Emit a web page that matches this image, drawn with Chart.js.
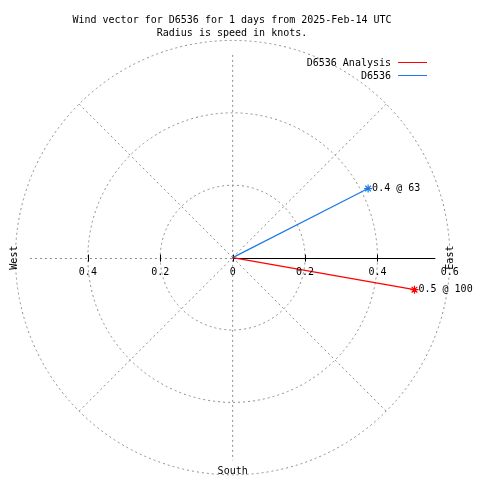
<!DOCTYPE html>
<html>
<head>
<meta charset="utf-8">
<script src="https://cdn.jsdelivr.net/npm/chart.js@4"></script>
<style>
  body { margin: 0; background: #fff; }
  canvas { display: block; }
</style>
</head>
<body>
<canvas id="myChart" width="480" height="480"></canvas>
<script>
// data
const seriesNames = ["D6536 Analysis", "D6536"];
const speeds = [0.51, 0.42]; // knots
const directions = [100, 63]; // degrees from north
const ringValues = [0.2, 0.4, 0.6];
const tickLabels = ["0.2", "0.4", "0.6"];
const titleLines = [
  "Wind vector for D6536 for 1 days from 2025-Feb-14 UTC",
  "Radius is speed in knots.",
];

const seriesColors = ["#ff0000", "#1e78e6"];
const FONT = "10px 'DejaVu Sans Mono', monospace";
const AXIS_LEN = 0.56;

const datasets = speeds.map((s, i) => {
  const rad = (directions[i] * Math.PI) / 180;
  return {
    label: seriesNames[i],
    data: [
      { x: 0, y: 0 },
      { x: s * Math.sin(rad), y: s * Math.cos(rad) },
    ],
    showLine: true,
    borderColor: seriesColors[i],
    backgroundColor: seriesColors[i],
    borderWidth: 1.2,
    pointStyle: "star",
    pointRadius: [0, 4],
    pointBorderWidth: 1.2,
  };
});

const polarPlugin = {
  id: "polar",
  beforeDatasetsDraw(chart) {
    const { ctx, scales } = chart;
    const xs = scales.x, ys = scales.y;
    const cx = xs.getPixelForValue(0), cy = ys.getPixelForValue(0);
    const unit = xs.getPixelForValue(1) - cx;
    const hy = Math.round(cy) + 0.5;
    ctx.save();
    ctx.strokeStyle = "#8c8c8c";
    ctx.lineWidth = 1;
    ctx.setLineDash([2, 3]);
    // rings
    ringValues.forEach((r) => {
      ctx.beginPath();
      ctx.arc(cx, cy, r * unit, 0, Math.PI * 2);
      ctx.stroke();
    });
    // diagonals
    const outer = ringValues[ringValues.length - 1] * unit;
    [45, 135, 225, 315].forEach((a) => {
      const t = (a * Math.PI) / 180;
      ctx.beginPath();
      ctx.moveTo(cx, cy);
      ctx.lineTo(cx + outer * Math.sin(t), cy - outer * Math.cos(t));
      ctx.stroke();
    });
    // vertical and west axis
    const len = AXIS_LEN * unit;
    ctx.beginPath();
    ctx.moveTo(cx, cy - len);
    ctx.lineTo(cx, cy + len);
    ctx.moveTo(cx - len, hy);
    ctx.lineTo(cx, hy);
    ctx.stroke();
    // east axis solid
    ctx.setLineDash([]);
    ctx.strokeStyle = "#000";
    ctx.beginPath();
    ctx.moveTo(cx, hy);
    ctx.lineTo(cx + len, hy);
    ctx.stroke();
    // ticks
    [0, 0.2, 0.4, -0.2, -0.4].forEach((v) => {
      const px = Math.round(xs.getPixelForValue(v)) + 0.5;
      ctx.beginPath();
      ctx.moveTo(px, cy - 3);
      ctx.lineTo(px, cy + 4);
      ctx.stroke();
    });
    ctx.restore();
  },
  afterDraw(chart) {
    const { ctx, scales } = chart;
    const xs = scales.x, ys = scales.y;
    const cx = xs.getPixelForValue(0), cy = ys.getPixelForValue(0);
    ctx.save();
    ctx.font = FONT;
    ctx.fillStyle = "#000";
    ctx.textBaseline = "middle";
    ctx.textAlign = "center";
    ctx.fillText(titleLines[0], 232, 20);
    ctx.fillText(titleLines[1], 232, 33);
    // tick labels
    ctx.fillText("0", cx, cy + 15);
    ringValues.forEach((v, i) => {
      ctx.fillText(tickLabels[i], xs.getPixelForValue(v), cy + 15);
      if (v < 0.6) ctx.fillText(tickLabels[i], xs.getPixelForValue(-v), cy + 15);
    });
    ctx.fillText("South", cx, 471);
    // rotated compass labels
    [["West", 14], ["East", 450]].forEach(([t, x]) => {
      ctx.save();
      ctx.translate(x, cy);
      ctx.rotate(-Math.PI / 2);
      ctx.fillText(t, 0, 0);
      ctx.restore();
    });
    // vector labels
    ctx.textAlign = "left";
    chart.data.datasets.forEach((ds, i) => {
      const end = ds.data[1];
      const label = speeds[i].toFixed(1) + " @ " + Math.round(directions[i]);
      ctx.fillText(label, xs.getPixelForValue(end.x) + 4, ys.getPixelForValue(end.y));
    });
    // legend
    ctx.textAlign = "right";
    seriesNames.forEach((n, i) => {
      const y = 63 + i * 13;
      ctx.fillText(n, 391, y);
      ctx.strokeStyle = seriesColors[i];
      ctx.lineWidth = 1;
      ctx.beginPath();
      ctx.moveTo(398, y - 0.5);
      ctx.lineTo(427, y - 0.5);
      ctx.stroke();
    });
    ctx.restore();
  },
};

const ctx = document.getElementById("myChart");
const myChart = new Chart(ctx, {
  type: "scatter",
  data: { datasets },
  options: {
    responsive: false,
    animation: false,
    layout: { padding: 0 },
    scales: {
      x: { type: "linear", display: false, min: -232.5 / 370, max: 247.5 / 370 },
      y: { type: "linear", display: false, min: -222 / 370, max: 258 / 370 },
    },
    plugins: {
      legend: { display: false },
      title: { display: false },
      tooltip: { enabled: false },
    },
  },
  plugins: [polarPlugin],
});
</script>
</body>
</html>
